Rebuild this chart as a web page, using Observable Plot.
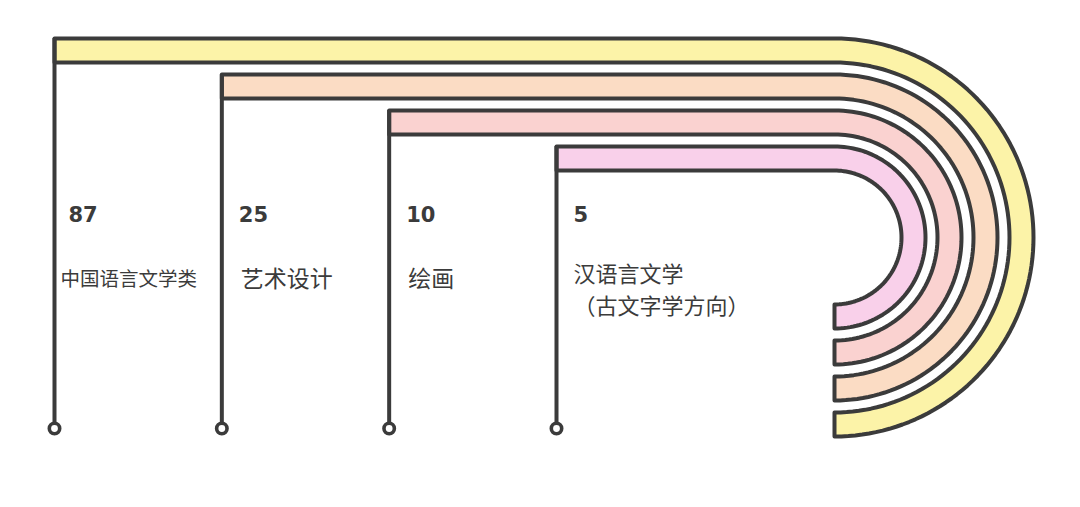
<!DOCTYPE html>
<html>
<head>
<meta charset="utf-8">
<script src="https://cdn.jsdelivr.net/npm/d3@7"></script>
<script src="https://cdn.jsdelivr.net/npm/@observablehq/plot@0.6"></script>
<style>
  html, body { margin: 0; padding: 0; background: #ffffff; }
  #chart svg { display: block; }
</style>
</head>
<body>
<div id="chart"></div>
<script>
// ---- data ----
const categories = ["中国语言文学类", "艺术设计", "绘画", "汉语言文学\n（古文字学方向）"];
const values = [87, 25, 10, 5];
const fills = ["#fcf3a8", "#fbdcc4", "#fad2d0", "#f9d0ea"];
const labelSizes = [19.5, 23, 23, 22];

// ---- layout ----
const W = 1080, H = 507;
const ink = "#3b3b3b";
const cx = 834, cy = 237;          // centre of the bends
const outer0 = 199, step = 36, band = 24;
const stemX = d3.scalePoint().domain(d3.range(categories.length)).range([54, 556]);
const dotY = 428;

const tracks = categories.map((c, i) => {
  const ro = outer0 - step * i, ri = ro - band;
  const x0 = stemX(i);
  const pts = [];
  pts.push({x: x0, y: cy - ro});
  pts.push({x: cx, y: cy - ro});
  for (let k = 1; k <= 90; k++) {
    const a = -Math.PI / 2 + Math.PI * k / 90;
    pts.push({x: cx + ro * Math.cos(a), y: cy + ro * Math.sin(a)});
  }
  pts.push({x: cx, y: cy + ri});
  for (let k = 1; k <= 90; k++) {
    const a = Math.PI / 2 - Math.PI * k / 90;
    pts.push({x: cx + ri * Math.cos(a), y: cy + ri * Math.sin(a)});
  }
  pts.push({x: x0, y: cy - ri});
  pts.push({x: x0, y: cy - ro});
  return {i, pts, top: cy - ro};
});

const stems = tracks.map(t => ({x: stemX(t.i), y1: t.top, y2: dotY - 5}));
const dots = tracks.map(t => ({x: stemX(t.i), y: dotY}));
const nums = values.map((v, i) => ({x: stemX(i) + (i === 0 ? 14 : 17), y: 215, v}));
const labels = categories.map((c, i) => ({
  x: stemX(i) + (i === 0 ? 6 : (i === 3 ? 17 : 19)),
  y: i === 3 ? 287 : 276,
  c, size: labelSizes[i]
}));

const marks = [];
tracks.forEach(t => {
  marks.push(Plot.line(t.pts, {x: "x", y: "y", fill: fills[t.i], stroke: ink, strokeWidth: 4, strokeLinejoin: "round", curve: "linear"}));
});
marks.push(Plot.ruleX(stems, {x: "x", y1: "y1", y2: "y2", stroke: ink, strokeWidth: 4}));
marks.push(Plot.dot(dots, {x: "x", y: "y", r: 5.2, stroke: ink, strokeWidth: 3.6, fill: "white"}));
marks.push(Plot.text(nums, {x: "x", y: "y", text: d => String(d.v), textAnchor: "start", fontSize: 21, fontWeight: "bold", fill: ink, fontFamily: "'DejaVu Sans', sans-serif"}));
[0,1,2,3].forEach(i => {
  marks.push(Plot.text([labels[i]], {x: "x", y: "y", text: "c", textAnchor: "start", lineAnchor: "middle", fontSize: labels[i].size, lineHeight: 1.45, fill: ink, fontFamily: "'Noto Sans CJK SC', sans-serif"}));
});

const chart = Plot.plot({
  width: W, height: H,
  margin: 0,
  x: {domain: [0, W], range: [0, W], axis: null},
  y: {domain: [0, H], range: [0, H], axis: null},
  style: {background: "white"},
  marks
});
document.getElementById("chart").appendChild(chart);
</script>
</body>
</html>
